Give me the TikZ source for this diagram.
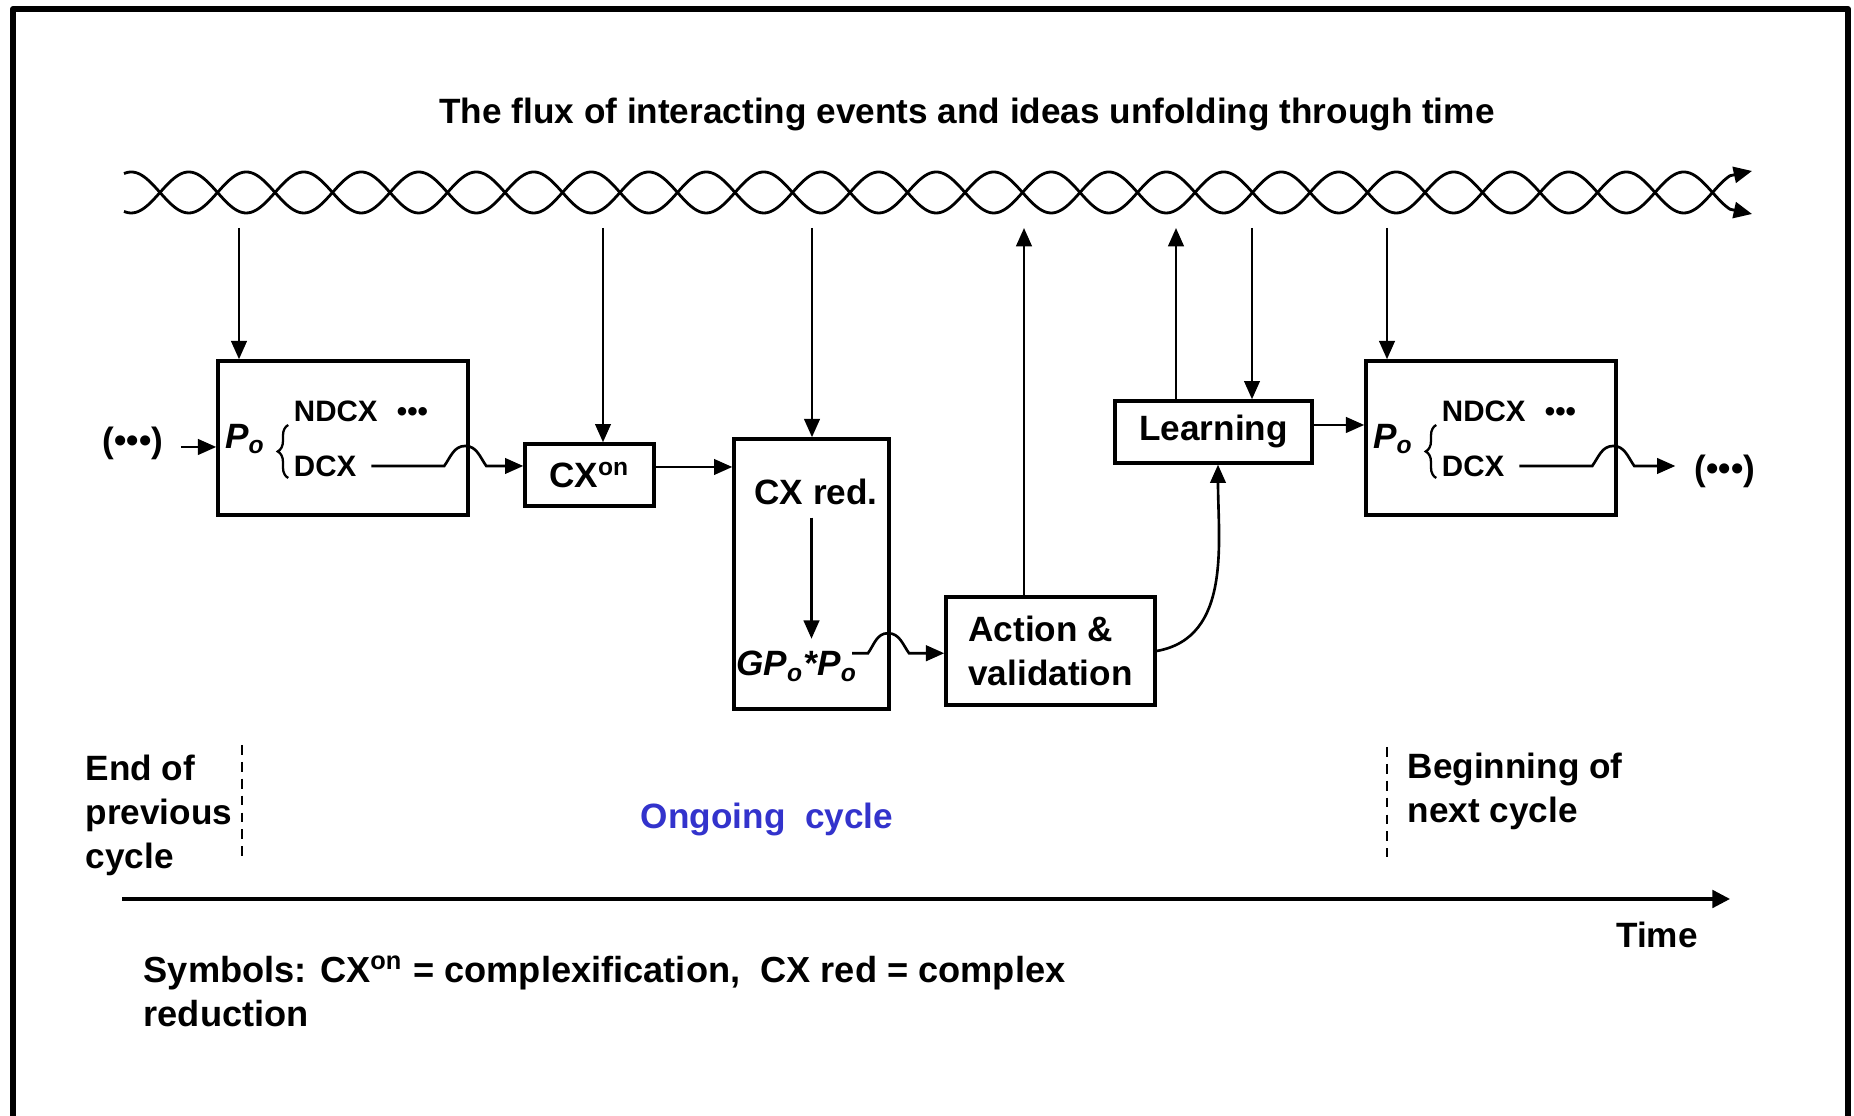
\documentclass[tikz,border=0pt]{standalone}
\usepackage{fontspec}
\setmainfont{Liberation Sans}
\usetikzlibrary{arrows.meta, decorations.pathreplacing}

\definecolor{cycleblue}{RGB}{51,51,204}

\begin{document}
\begin{tikzpicture}[x=0.01cm, y=0.01cm,
    font=\bfseries\fontsize{10}{12.5}\selectfont,
    box/.style={draw, line width=0.95pt, inner sep=0pt},
    arr/.style={-{Triangle[length=5.2pt, width=4.4pt]}, line width=0.75pt},
    strand/.style={-{Triangle[length=5.2pt, width=4.6pt]}, line width=0.8pt},
    small/.style={font=\bfseries\fontsize{8.4}{10}\selectfont, inner sep=0pt, anchor=base west},
    divider/.style={line width=0.7pt, dash pattern=on 2.8pt off 2pt},
    timeaxis/.style={-{Triangle[length=5pt, width=5pt]}, line width=0.9pt},
    lbl/.style={anchor=north west, align=left, inner sep=0pt}]

    \useasboundingbox (0,0) rectangle (1854,1116);
    % frame (bottom edge lies outside the page)
    \draw[line width=1.7pt, line join=round] (13,-30) -- (13,1107) -- (1848,1107) -- (1848,-30);

    \node (title) at (967,1001) {The flux of interacting events and ideas unfolding through time};

    % twisted strands of the flux
    \draw[strand] plot[domain=124:1730, samples=800] (\x, {923.5+20.5*sin((\x-160)*3.130435)}) -- (1752,902);
    \draw[strand] plot[domain=124:1730, samples=800] (\x, {923.5-20.5*sin((\x-160)*3.130435)}) -- (1752,945);

    \coordinate (f1) at (239,888);
    \coordinate (f2) at (603,888);
    \coordinate (f3) at (812,888);
    \coordinate (f4) at (1024,888);
    \coordinate (f5) at (1176,888);
    \coordinate (f6) at (1252,888);
    \coordinate (f7) at (1387,888);

    % boxes
    \node[box, minimum width=2.5cm, minimum height=1.54cm] (po1) at (343,678) {};
    \node[box, minimum width=1.29cm, minimum height=0.62cm] (cxon) at (589.5,641) {CX\textsuperscript{on}};
    \node[box, minimum width=1.55cm, minimum height=2.7cm] (cxred) at (811.5,542) {};
    \node[box, minimum width=2.09cm, minimum height=1.08cm, align=left] (act) at (1050.5,465) {Action \&\\validation};
    \node[box, minimum width=1.97cm, minimum height=0.62cm] (learn) at (1213.5,684) {Learning};
    \node[box, minimum width=2.5cm, minimum height=1.54cm] (po2) at (1491,678) {};

    % contents of the first Po box
    \node (po1p) at ([shift={(29,-1)}]po1.west) {\textit{P\textsubscript{o}}};
    \draw[line width=0.65pt, decorate, decoration={brace, amplitude=3pt}]
        ([shift={(72,-40)}]po1.west) -- ([shift={(72,13)}]po1.west);
    \node[small] (ndcx1) at ([shift={(77,16)}]po1.west) {NDCX};
    \node[small] (dots1) at ([shift={(180,16)}]po1.west) {•••};
    \node[small] (dcx1) at ([shift={(77,-39)}]po1.west) {DCX};

    % contents of the second Po box
    \node (po2p) at ([shift={(29,-1)}]po2.west) {\textit{P\textsubscript{o}}};
    \draw[line width=0.65pt, decorate, decoration={brace, amplitude=3pt}]
        ([shift={(72,-40)}]po2.west) -- ([shift={(72,13)}]po2.west);
    \node[small] (ndcx2) at ([shift={(77,16)}]po2.west) {NDCX};
    \node[small] (dots2) at ([shift={(180,16)}]po2.west) {•••};
    \node[small] (dcx2) at ([shift={(77,-39)}]po2.west) {DCX};

    % contents of the CX red box
    \node (redtxt) at ([shift={(4.5,-55)}]cxred.north) {CX red.};
    \node (gp) at ([shift={(-14.5,-229)}]cxred.north) {\textit{GP\textsubscript{o}*P\textsubscript{o}}};

    \node (dotsL) at (133,673) {(•••)};
    \node (dotsR) at (1725,645) {(•••)};

    % connectors
    \coordinate (d1) at ([shift={(0,-4)}]dotsL.east);
    \draw[arr, shorten <=1.5pt] (d1) -- (d1 -| po1.west);
    \draw[arr] ([shift={(155,-28)}]po1.west) -- ++(73,0) to[out=55,in=180] ++(21,20)
        to[out=0,in=125] ++(21,-20) coordinate (h1) -- (h1 -| cxon.west);
    \coordinate (c1) at ([shift={(0,8)}]cxon.east);
    \draw[arr] (c1) -- (c1 -| cxred.west);
    \draw[arr] (redtxt.south -| cxred.north) -- (gp.north -| cxred.north);
    \draw[arr] ([shift={(55,13)}]gp.center) -- ++(16,0) to[out=55,in=180] ++(20,20)
        to[out=0,in=125] ++(21,-20) coordinate (h3) -- (h3 -| act.west);
    \draw[arr] (act.east) to[out=10,in=-90] ([shift={(4.5,0)}]learn.south);
    \coordinate (l1) at ([shift={(0,7)}]learn.east);
    \draw[arr] (l1) -- (l1 -| po2.west);
    \draw[arr, shorten >=2pt] ([shift={(155,-28)}]po2.west) -- ++(73,0) to[out=55,in=180] ++(21,20)
        to[out=0,in=125] ++(21,-20) coordinate (h2) -- (h2 -| dotsR.west);

    \draw[arr] (f1) -- (f1 |- po1.north);
    \draw[arr] (f2) -- (f2 |- cxon.north);
    \draw[arr] (f3) -- (f3 |- cxred.north);
    \draw[arr] (act.north -| f4) -- (f4);
    \draw[arr] (learn.north -| f5) -- (f5);
    \draw[arr] (f6) -- (f6 |- learn.north);
    \draw[arr] (f7) -- (f7 |- po2.north);

    % cycle limits
    \draw[divider] (242,371) -- (242,258);
    \draw[divider] (1387,369) -- (1387,259);
    \node[lbl] (endprev) at (85,362) {End of\\previous\\cycle};
    \node[lbl] (beginnext) at (1407,364) {Beginning of\\next cycle};
    \node[text=cycleblue] (ongoing) at (767,296) {Ongoing\ \ cycle};

    % time axis
    \coordinate (t0) at (122,217);
    \coordinate (t1) at (1730,217);
    \draw[timeaxis] (t0) -- (t1);
    \node (time) at (1657,181) {Time};

    \node[lbl, font=\bfseries\fontsize{10.3}{12.5}\selectfont] (symbols) at (143,161)
        {Symbols: CX\textsuperscript{on} = complexification,\ \ CX red = complex\\reduction};
\end{tikzpicture}
\end{document}
